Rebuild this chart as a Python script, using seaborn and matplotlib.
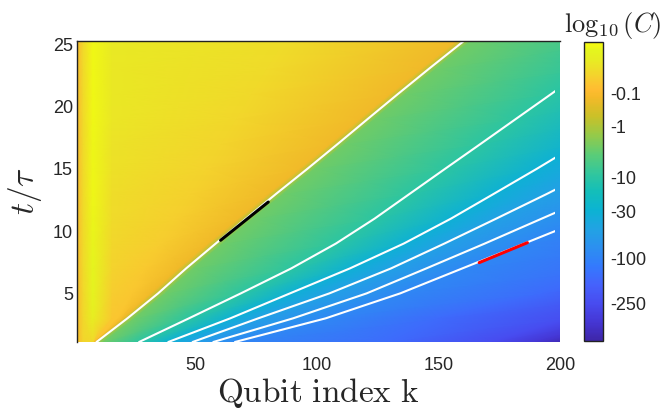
import numpy as np
import matplotlib
matplotlib.use('Agg')
import matplotlib.pyplot as plt
from matplotlib.colors import LinearSegmentedColormap, Normalize
from matplotlib.patches import Rectangle
import seaborn as sns

# rows of the map (t / tau) at which the picture was read
t_rows = [1.1, 3, 5, 7, 9, 11, 13, 15, 17, 19, 21, 23, 25.3]

# k position of each white contour on those rows (front first)
front_k = [9.5, 22.2, 34.8, 46.3, 58.5, 70.9, 83.4, 96.2, 108.7, 121.0, 133.4, 146.0, 160.8]
line2_k = [27.0, 47.5, 68.8, 89.5, 107.9, 123.8, 138.3, 152.8, 167.4, 181.9, 196.4, 210.8, 227]
line3_k = [39.0, 64.5, 89.0, 113.6, 135.8, 155.2, 172.9, 190.5, 207.5, 224, 240, 256, 274]
line4_k = [49.0, 76.0, 105.2, 130.5, 152.5, 173.8, 194.8, 215, 235, 255, 274, 293, 315]
line5_k = [57.5, 90.3, 120.5, 145.0, 169.1, 192.5, 216, 239, 262, 285, 308, 330, 356]
line6_k = [66.4, 103.7, 134.3, 159.8, 185.3, 210.7, 236, 261, 286, 311, 336, 361, 390]
line_levels = [-1, -10, -30, -50, -70, -90]   # log10(C) on the white lines

# deeper levels towards the bottom right corner
deep_levels = [-150, -250, -350, -450]
deep150_k = [130, 150, 193, 225, 240, 265, 290, 315, 340, 365, 390, 415, 445]
deep250_k = [172, 205, 232, 262, 290, 315, 340, 365, 390, 415, 440, 465, 495]
deep350_k = [190, 225, 258, 288, 315, 340, 365, 390, 415, 440, 465, 490, 520]
deep450_k = [201, 245, 282, 312, 340, 365, 390, 415, 440, 465, 490, 515, 545]

# log10(C) inside the light cone (k = 1.5, 4, 8, 16, half way, just before front)
edge_v = [-0.09, -0.09, -0.09, -0.09, -0.09, -0.09, -0.09, -0.09, -0.09, -0.09, -0.09, -0.09, -0.09]
k4_v = [-0.012, -0.010, -0.009, -0.008, -0.008, -0.008, -0.008, -0.008, -0.008, -0.008, -0.008, -0.008, -0.008]
k8_v = [-0.008, -4e-4, -1e-4, -5e-5, -3e-5, -2e-5, -1e-5, -1e-5, -8e-6, -6e-6, -6e-6, -6e-6, -6e-6]
k16_v = [-0.04, -0.03, -0.02, -0.014, -0.01, -0.007, -0.005, -0.004, -0.003, -0.002, -0.0016, -0.0014, -0.0012]
mid_v = [-0.04, -0.035, -0.03, -0.026, -0.022, -0.018, -0.015, -0.013, -0.011, -0.009, -0.008, -0.007, -0.006]
near_v = [-0.15, -0.15, -0.15, -0.15, -0.15, -0.15, -0.15, -0.15, -0.15, -0.15, -0.15, -0.15, -0.15]
after_front = -3.0

# velocity markers on the front and on the last contour
black_k = [60.5, 80.1]
black_t = [9.26, 12.33]
red_k = [166.8, 186.6]
red_t = [7.47, 9.07]

cbar_values = [-0.1, -1, -10, -30, -100, -250]
cbar_labels = ['-0.1', '-1', '-10', '-30', '-100', '-250']

# parula anchors
parula = [(0.2422, 0.1504, 0.6603), (0.2704, 0.2138, 0.8346), (0.2813, 0.2985, 0.9397),
          (0.2710, 0.3860, 0.9898), (0.2006, 0.4803, 0.9906), (0.1716, 0.5655, 0.9393),
          (0.1288, 0.6408, 0.8910), (0.0433, 0.7039, 0.8242), (0.0770, 0.7468, 0.7224),
          (0.2061, 0.7808, 0.6065), (0.3671, 0.8021, 0.4563), (0.5886, 0.7913, 0.2833),
          (0.7945, 0.7554, 0.1566), (0.9544, 0.7261, 0.1599), (0.9999, 0.7389, 0.1935),
          (0.9699, 0.8040, 0.1842), (0.9081, 0.9271, 0.1363), (0.8985, 0.9589, 0.1177),
          (0.9763, 0.9831, 0.0538)]
stops = [0, 16, 32, 48, 64, 80, 96, 112, 128, 144, 160, 176, 192, 208, 215, 224, 240, 248, 255]
cmap = LinearSegmentedColormap.from_list('parula', [(s / 255, c) for s, c in zip(stops, parula)])


def colour_scale(v):
    # colour axis of the figure: -|log10 C|^(1/5)
    return -np.abs(np.asarray(v, dtype=float)) ** 0.2


# build the curvilinear mesh, one row per t
t_arr = np.array(t_rows)
front = np.array(front_k)
near = front - np.minimum(3.0, 0.08 * front)
mid = (16 + near) / 2
n = len(t_rows)
K = np.column_stack([np.full(n, 1.5), np.full(n, 4.0), np.full(n, 8.0), np.full(n, 16.0), mid, near,
                     front, front + 3, line2_k, line3_k, line4_k, line5_k, line6_k,
                     deep150_k, deep250_k, deep350_k, deep450_k])
for j in range(K.shape[1] - 2, -1, -1):
    K[:, j] = np.minimum(K[:, j], K[:, j + 1] - 0.05)
V = np.column_stack([edge_v, k4_v, k8_v, k16_v, mid_v, near_v,
                     np.full(n, line_levels[0]), np.full(n, after_front)]
                    + [np.full(n, lv) for lv in line_levels[1:]]
                    + [np.full(n, lv) for lv in deep_levels])
T = np.repeat(t_arr[:, None], K.shape[1], axis=1)

sns.set_theme(style='white')
plt.rcParams['font.family'] = ['Liberation Sans', 'DejaVu Sans']
plt.rcParams['mathtext.fontset'] = 'cm'

fig = plt.figure(figsize=(6.64, 4.09), dpi=100)
ax = fig.add_axes([0.116, 0.1638, 0.7274, 0.736])
norm = Normalize(vmin=-3.45, vmax=-0.04)
mesh = ax.pcolormesh(K, T, colour_scale(V), shading='gouraud', cmap=cmap, norm=norm)

clip = Rectangle((1.5, 1.1), 196.5, 24.2, transform=ax.transData)
for lk in [front_k, line2_k, line3_k, line4_k, line5_k, line6_k]:
    sns.lineplot(x=lk, y=t_rows, sort=False, estimator=None, color='white', linewidth=1.5, ax=ax)
    ax.lines[-1].set_clip_path(clip)
sns.lineplot(x=black_k, y=black_t, sort=False, estimator=None, color='black', linewidth=2.2, ax=ax)
sns.lineplot(x=red_k, y=red_t, sort=False, estimator=None, color='red', linewidth=2.2, ax=ax)

ax.set_xlim(1.5, 200)
ax.set_ylim(1.1, 25.25)
ax.set_xticks([50, 100, 150, 200])
ax.set_yticks([5, 10, 15, 20, 25])
ax.tick_params(length=0, labelsize=13, colors='#262626')
ax.tick_params(axis='x', pad=11)
ax.tick_params(axis='y', pad=3)
for side in ['bottom', 'right']:
    ax.spines[side].set_visible(False)
for side in ['left', 'top']:
    ax.spines[side].set_color('#222222')
    ax.spines[side].set_linewidth(1.0)

ax.set_xlabel(r'$\mathrm{Qubit\ index\ k}$', fontsize=24, color='#262626')
ax.xaxis.set_label_coords(0.5, -0.17)
ax.xaxis.label.set_va('center')
ax.set_ylabel(r'$t/\tau$', fontsize=24, color='#262626')
ax.yaxis.set_label_coords(-0.108, 0.5)
ax.yaxis.label.set_va('center')

cax = fig.add_axes([0.8795, 0.1663, 0.0286, 0.731])
cb = fig.colorbar(mesh, cax=cax)
cb.set_ticks(colour_scale(cbar_values))
cb.set_ticklabels(cbar_labels)
cb.outline.set_linewidth(1.0)
cb.outline.set_edgecolor('#222222')
cax.tick_params(direction='in', length=3, width=0.8, labelsize=13, pad=5, colors='#262626')
fig.text(0.923, 0.938, r'$\log_{10}(C)$', ha='center', va='center', fontsize=19, color='#262626')

fig.savefig('out.png', dpi=100)
